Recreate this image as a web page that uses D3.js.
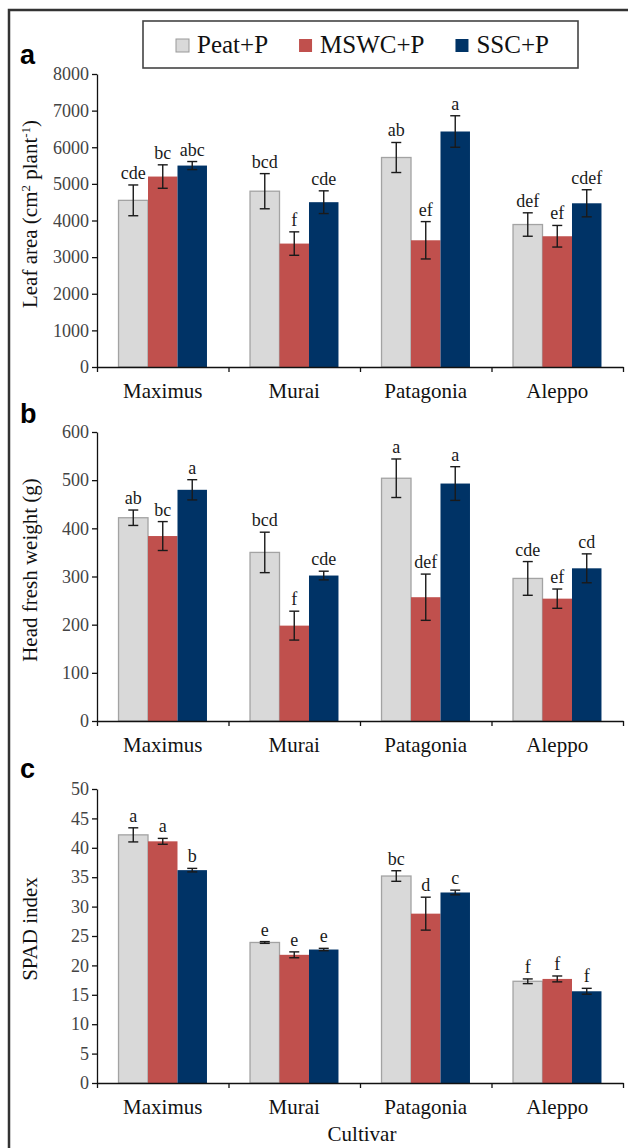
<!DOCTYPE html>
<html>
<head>
<meta charset="utf-8">
<script src="https://cdn.jsdelivr.net/npm/d3@7/dist/d3.min.js"></script>
<style>
  html, body { margin: 0; padding: 0; background: #fff; }
  svg { display: block; }
</style>
</head>
<body>
<svg id="chart" width="628" height="1148"></svg>
<script>
// ---------------- DATA ----------------
const categories = ["Maximus", "Murai", "Patagonia", "Aleppo"];
const series = ["Peat+P", "MSWC+P", "SSC+P"];

// Panel a: Leaf area (cm2 plant-1) — rows follow `series`, columns follow `categories`
const leafMean = [[4550, 4800, 5720, 3890], [5200, 3370, 3460, 3570], [5500, 4500, 6430, 4470]];
const leafErr = [[420, 480, 410, 320], [320, 320, 510, 295], [110, 310, 430, 370]];
const leafLetters = [["cde", "bcd", "ab", "def"], ["bc", "f", "ef", "ef"], ["abc", "cde", "a", "cdef"]];
const leafTicks = [0, 1000, 2000, 3000, 4000, 5000, 6000, 7000, 8000];

// Panel b: Head fresh weight (g)
const headMean = [[422, 350, 504, 296], [384, 198, 257, 254], [480, 302, 493, 317]];
const headErr = [[16, 42, 40, 35], [30, 30, 48, 20], [21, 9, 35, 30]];
const headLetters = [["ab", "bcd", "a", "cde"], ["bc", "f", "def", "ef"], ["a", "cde", "a", "cd"]];
const headTicks = [0, 100, 200, 300, 400, 500, 600];

// Panel c: SPAD index
const spadMean = [[42.2, 23.9, 35.2, 17.3], [41.1, 21.8, 28.8, 17.7], [36.2, 22.7, 32.4, 15.6]];
const spadErr = [[1.2, 0.15, 0.9, 0.4], [0.5, 0.5, 2.8, 0.5], [0.3, 0.2, 0.4, 0.5]];
const spadLetters = [["a", "e", "bc", "f"], ["a", "e", "d", "f"], ["b", "e", "c", "f"]];
const spadTicks = [0, 5, 10, 15, 20, 25, 30, 35, 40, 45, 50];

// ---------------- STYLE ----------------
const fills = ["#d9d9d9", "#c0504d", "#003366"];
const strokes = ["#a3a3a3", "none", "none"];
const serif = "'Liberation Serif', 'Times New Roman', serif";
const sans = "'Liberation Sans', Arial, sans-serif";

const svg = d3.select("#chart");

// outer frame (left and top edges)
svg.append("path")
  .attr("d", "M9,1148 V10 H628")
  .attr("fill", "none").attr("stroke", "#333").attr("stroke-width", 2.5);

const x0 = 97, x1 = 623;
const xCat = d3.scaleBand().domain(categories).range([x0, x1]).paddingInner(0).paddingOuter(0);
const xSer = d3.scaleBand().domain(series).range([0, xCat.bandwidth()]).paddingInner(0).paddingOuter(0.73);
const xBound = d3.scaleLinear().domain([0, categories.length]).range([x0, x1]);

const panels = [
  { mean: leafMean, err: leafErr, letters: leafLetters, ticks: leafTicks,
    range: [367, 74], label: "a", labelY: 64, titleY: 214, kind: "leaf" },
  { mean: headMean, err: headErr, letters: headLetters, ticks: headTicks,
    range: [721, 432], label: "b", labelY: 423, titleY: 570, title: "Head fresh weight (g)" },
  { mean: spadMean, err: spadErr, letters: spadLetters, ticks: spadTicks,
    range: [1083, 789], label: "c", labelY: 778, titleY: 929, title: "SPAD index" }
];

panels.forEach(p => {
  const y = d3.scaleLinear()
    .domain([p.ticks[0], p.ticks[p.ticks.length - 1]])
    .range(p.range);
  const g = svg.append("g");

  // rows of data
  const rows = [];
  series.forEach((s, si) => {
    categories.forEach((c, ci) => {
      rows.push({ s, si, c, v: p.mean[si][ci], e: p.err[si][ci], l: p.letters[si][ci] });
    });
  });

  // bars
  g.selectAll("rect.bar").data(rows).join("rect")
    .attr("class", "bar")
    .attr("x", d => xCat(d.c) + xSer(d.s))
    .attr("width", xSer.bandwidth())
    .attr("y", d => y(d.v))
    .attr("height", d => y(0) - y(d.v))
    .attr("fill", d => fills[d.si])
    .attr("stroke", d => strokes[d.si])
    .attr("stroke-width", 1.3);

  // error bars
  const cx = d => xCat(d.c) + xSer(d.s) + xSer.bandwidth() / 2;
  const eg = g.selectAll("g.err").data(rows).join("g").attr("class", "err")
    .attr("stroke", "#1a1a1a").attr("stroke-width", 1.4);
  eg.append("line")
    .attr("x1", cx).attr("x2", cx)
    .attr("y1", d => y(d.v + d.e)).attr("y2", d => y(d.v - d.e));
  eg.append("line")
    .attr("x1", d => cx(d) - 5).attr("x2", d => cx(d) + 5)
    .attr("y1", d => y(d.v + d.e)).attr("y2", d => y(d.v + d.e));
  eg.append("line")
    .attr("x1", d => cx(d) - 5).attr("x2", d => cx(d) + 5)
    .attr("y1", d => y(d.v - d.e)).attr("y2", d => y(d.v - d.e));

  // significance letters
  g.selectAll("text.sig").data(rows).join("text")
    .attr("class", "sig")
    .attr("x", cx)
    .attr("y", d => y(d.v + d.e) - 6)
    .attr("text-anchor", "middle")
    .attr("font-family", serif).attr("font-size", 18).attr("fill", "#1a1a1a")
    .text(d => d.l);

  // y axis
  const ya = g.append("g").attr("transform", `translate(${x0},0)`)
    .call(d3.axisLeft(y).tickValues(p.ticks).tickSize(5).tickSizeOuter(0).tickPadding(3)
      .tickFormat(d3.format("d")));
  ya.select(".domain").attr("stroke", "#111").attr("stroke-width", 1.3);
  ya.selectAll(".tick line").attr("stroke", "#111").attr("stroke-width", 1.3);
  ya.selectAll(".tick text").attr("font-family", serif).attr("font-size", 18).attr("fill", "#444");

  // x axis (boundary ticks)
  const xa = g.append("g").attr("transform", `translate(0,${y(0)})`)
    .call(d3.axisBottom(xBound).tickValues(d3.range(categories.length + 1)).tickSize(5)
      .tickSizeOuter(0).tickFormat(""));
  xa.select(".domain").attr("stroke", "#111").attr("stroke-width", 1.3);
  xa.selectAll(".tick line").attr("stroke", "#111").attr("stroke-width", 1.3);

  // category labels
  g.selectAll("text.cat").data(categories).join("text")
    .attr("class", "cat")
    .attr("x", d => xCat(d) + xCat.bandwidth() / 2)
    .attr("y", y(0) + 31)
    .attr("text-anchor", "middle")
    .attr("font-family", serif).attr("font-size", 21).attr("fill", "#111")
    .text(d => d);

  // panel label
  g.append("text")
    .attr("x", 20).attr("y", p.labelY)
    .attr("font-family", sans).attr("font-weight", "bold").attr("font-size", 27).attr("fill", "#000")
    .text(p.label);

  // y title
  const t = g.append("text")
    .attr("transform", `translate(37,${p.titleY}) rotate(-90)`)
    .attr("text-anchor", "middle")
    .attr("font-family", serif).attr("font-size", 21).attr("fill", "#111");
  if (p.kind === "leaf") {
    t.append("tspan").text("Leaf area (cm");
    t.append("tspan").attr("baseline-shift", "super").attr("font-size", 13).text("2");
    t.append("tspan").text(" plant");
    t.append("tspan").attr("baseline-shift", "super").attr("font-size", 13).text("-1");
    t.append("tspan").text(")");
  } else {
    t.text(p.title);
  }
});

// x-axis title
svg.append("text")
  .attr("x", 362).attr("y", 1141)
  .attr("text-anchor", "middle")
  .attr("font-family", serif).attr("font-size", 21).attr("fill", "#111")
  .text("Cultivar");

// legend
const lg = svg.append("g");
lg.append("rect")
  .attr("x", 143).attr("y", 21).attr("width", 435).attr("height", 47)
  .attr("fill", "#fff").attr("stroke", "#444").attr("stroke-width", 1.6);
let lx = 176;
series.forEach((s, i) => {
  lg.append("rect")
    .attr("x", lx).attr("y", 39).attr("width", 13).attr("height", 13)
    .attr("fill", fills[i])
    .attr("stroke", i === 0 ? "#999" : "none").attr("stroke-width", 1);
  const tx = lg.append("text")
    .attr("x", lx + 21).attr("y", 53)
    .attr("font-family", serif).attr("font-size", 25).attr("fill", "#111")
    .text(s);
  lx = lx + 21 + tx.node().getComputedTextLength() + 31;
});
</script>
</body>
</html>
